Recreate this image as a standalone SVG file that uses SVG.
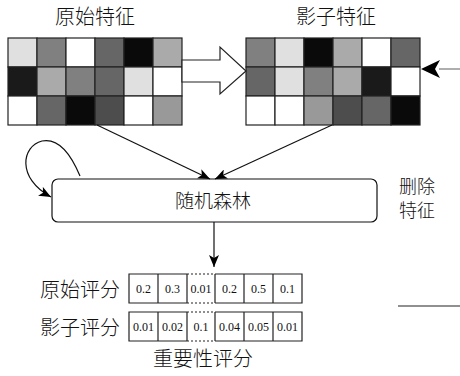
<svg xmlns="http://www.w3.org/2000/svg" width="460" height="376" viewBox="0 0 460 376">
<style>
.cjk{font-family:"Noto Sans CJK SC","Noto Sans CJK JP",sans-serif;font-weight:300;fill:#111}
.num{font-family:"Liberation Serif",serif;font-size:12px;fill:#111;text-anchor:middle}
.cell{stroke:#222;stroke-width:1.2}
.ln{fill:none;stroke:#111;stroke-width:1.2}
.box{fill:#fff;stroke:#111;stroke-width:1.2}
</style>
<defs>
<marker id="ah" viewBox="0 0 12 10" refX="12" refY="5" markerWidth="12" markerHeight="10" markerUnits="userSpaceOnUse" orient="auto">
<path d="M0,0 L12,5 L0,10 L3,5 Z" fill="#000"/>
</marker>
</defs>

<g id="orig-features">
<text class="cjk" x="95" y="24" font-size="20" text-anchor="middle">原始特征</text>
<g class="cell">
<rect x="8" y="38" width="29" height="29" fill="#e0e0e0"/>
<rect x="37" y="38" width="29" height="29" fill="#808080"/>
<rect x="66" y="38" width="29" height="29" fill="#ffffff"/>
<rect x="95" y="38" width="29" height="29" fill="#666666"/>
<rect x="124" y="38" width="29" height="29" fill="#0a0a0a"/>
<rect x="153" y="38" width="29" height="29" fill="#aaaaaa"/>
<rect x="8" y="67" width="29" height="29" fill="#1a1a1a"/>
<rect x="37" y="67" width="29" height="29" fill="#aaaaaa"/>
<rect x="66" y="67" width="29" height="29" fill="#808080"/>
<rect x="95" y="67" width="29" height="29" fill="#666666"/>
<rect x="124" y="67" width="29" height="29" fill="#e0e0e0"/>
<rect x="153" y="67" width="29" height="29" fill="#ffffff"/>
<rect x="8" y="96" width="29" height="29" fill="#ffffff"/>
<rect x="37" y="96" width="29" height="29" fill="#666666"/>
<rect x="66" y="96" width="29" height="29" fill="#0a0a0a"/>
<rect x="95" y="96" width="29" height="29" fill="#4d4d4d"/>
<rect x="124" y="96" width="29" height="29" fill="#ffffff"/>
<rect x="153" y="96" width="29" height="29" fill="#999999"/>
</g>
</g>

<g id="shadow-features">
<text class="cjk" x="336" y="24" font-size="20" text-anchor="middle">影子特征</text>
<g class="cell">
<rect x="246" y="38" width="29" height="29" fill="#808080"/>
<rect x="275" y="38" width="29" height="29" fill="#e0e0e0"/>
<rect x="304" y="38" width="29" height="29" fill="#0a0a0a"/>
<rect x="333" y="38" width="29" height="29" fill="#aaaaaa"/>
<rect x="362" y="38" width="29" height="29" fill="#ffffff"/>
<rect x="391" y="38" width="29" height="29" fill="#666666"/>
<rect x="246" y="67" width="29" height="29" fill="#666666"/>
<rect x="275" y="67" width="29" height="29" fill="#e0e0e0"/>
<rect x="304" y="67" width="29" height="29" fill="#808080"/>
<rect x="333" y="67" width="29" height="29" fill="#aaaaaa"/>
<rect x="362" y="67" width="29" height="29" fill="#1a1a1a"/>
<rect x="391" y="67" width="29" height="29" fill="#ffffff"/>
<rect x="246" y="96" width="29" height="29" fill="#ffffff"/>
<rect x="275" y="96" width="29" height="29" fill="#ffffff"/>
<rect x="304" y="96" width="29" height="29" fill="#999999"/>
<rect x="333" y="96" width="29" height="29" fill="#4d4d4d"/>
<rect x="362" y="96" width="29" height="29" fill="#666666"/>
<rect x="391" y="96" width="29" height="29" fill="#0a0a0a"/>
</g>
</g>

<g id="random-forest">
<rect class="box" x="52" y="179" width="325" height="43" rx="6"/>
<text class="cjk" x="213" y="208" font-size="19" text-anchor="middle">随机森林</text>
</g>

<g id="delete-label">
<text class="cjk" x="399" y="193" font-size="18">删除</text>
<text class="cjk" x="399" y="217" font-size="18">特征</text>
</g>

<g id="score-labels">
<text class="cjk" x="120" y="297" font-size="20" text-anchor="end">原始评分</text>
<text class="cjk" x="120" y="335" font-size="20" text-anchor="end">影子评分</text>
<text class="cjk" x="203" y="366" font-size="20" text-anchor="middle">重要性评分</text>
</g>

<g id="orig-scores">
<g fill="none" stroke="#222" stroke-width="1.2">
<path d="M187,274 H129 V303 H187 M215,274 H302 V303 H215"/>
<path d="M187,274 H215 M187,303 H215" stroke-dasharray="2,2"/>
<path d="M158,274 V303 M187,274 V303 M215,274 V303 M244,274 V303 M273,274 V303"/>
</g>
<text class="num" x="143.5" y="293">0.2</text>
<text class="num" x="172.5" y="293">0.3</text>
<text class="num" x="201" y="293">0.01</text>
<text class="num" x="229.5" y="293">0.2</text>
<text class="num" x="258.5" y="293">0.5</text>
<text class="num" x="287.5" y="293">0.1</text>
</g>

<g id="shadow-scores">
<g fill="none" stroke="#222" stroke-width="1.2">
<path d="M187,312 H129 V341 H187 M215,312 H302 V341 H215"/>
<path d="M187,312 H215 M187,341 H215" stroke-dasharray="2,2"/>
<path d="M158,312 V341 M187,312 V341 M215,312 V341 M244,312 V341 M273,312 V341"/>
</g>
<text class="num" x="143.5" y="331">0.01</text>
<text class="num" x="172.5" y="331">0.02</text>
<text class="num" x="201" y="331">0.1</text>
<text class="num" x="229.5" y="331">0.04</text>
<text class="num" x="258.5" y="331">0.05</text>
<text class="num" x="287.5" y="331">0.01</text>
</g>

<g id="connectors">
<polygon points="182,60 220,60 220,47 246,71 220,94 220,82 182,82" fill="#fff" stroke="#222" stroke-width="1.2"/>
<line x1="460" y1="69" x2="439" y2="69" stroke="#777" stroke-width="1.2"/>
<path d="M421,69 L440,60 L435,69 L440,78 Z" fill="#000"/>
<line class="ln" x1="97" y1="125" x2="210" y2="179" marker-end="url(#ah)"/>
<line class="ln" x1="332" y1="125" x2="215" y2="179" marker-end="url(#ah)"/>
<line class="ln" x1="214" y1="222" x2="214" y2="267" marker-end="url(#ah)"/>
<path class="ln" d="M80,176 C70,152 57,138 42,141 C22,146 16,178 51,197" marker-end="url(#ah)"/>
<line x1="398" y1="306" x2="460" y2="306" stroke="#222" stroke-width="1.2"/>
</g>
</svg>
